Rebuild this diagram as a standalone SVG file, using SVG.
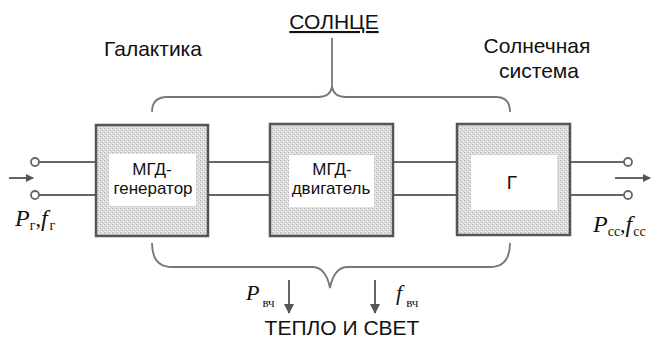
<svg xmlns="http://www.w3.org/2000/svg" width="653" height="340" viewBox="0 0 653 340">
<defs>
<pattern id="stip" width="4" height="4" patternUnits="userSpaceOnUse">
<rect width="4" height="4" fill="#dcdcdc"/>
<rect x="0" y="0" width="1" height="1" fill="#b0b0b0"/>
<rect x="2" y="2" width="1" height="1" fill="#b8b8b8"/>
<rect x="3" y="1" width="1" height="1" fill="#f2f2f2"/>
<rect x="1" y="3" width="1" height="1" fill="#efefef"/>
</pattern>
<marker id="ah" markerWidth="8" markerHeight="8" refX="7" refY="4" orient="auto" markerUnits="userSpaceOnUse">
<path d="M0,0 L8,4 L0,8 z" fill="#555"/>
</marker>
<marker id="ahd" markerWidth="10" markerHeight="10" refX="9" refY="5" orient="auto" markerUnits="userSpaceOnUse">
<path d="M0,0 L10,5 L0,10 z" fill="#555"/>
</marker>
</defs>
<style>
.box{fill:url(#stip);stroke:#555;stroke-width:2.5}
.inner{fill:#fff}
.t{font-family:"Liberation Sans",Arial,sans-serif;fill:#111}
.ln{stroke:#666;stroke-width:2;fill:none}
.br{stroke:#777;stroke-width:1.8;fill:none}
.term{fill:#fff;stroke:#666;stroke-width:1.8}
.it{font-family:"Liberation Serif","Times New Roman",serif;font-style:italic;fill:#111}
.sub{font-family:"Liberation Serif","Times New Roman",serif;fill:#111}
</style>
<rect width="653" height="340" fill="#fff"/>

<g id="connectors">
<line class="ln" x1="39" y1="162" x2="96" y2="162"/>
<line class="ln" x1="39" y1="195" x2="96" y2="195"/>
<line class="ln" x1="208" y1="162" x2="270" y2="162"/>
<line class="ln" x1="208" y1="195" x2="270" y2="195"/>
<line class="ln" x1="393" y1="162" x2="457" y2="162"/>
<line class="ln" x1="393" y1="195" x2="457" y2="195"/>
<line class="ln" x1="570" y1="162" x2="624" y2="162"/>
<line class="ln" x1="570" y1="195" x2="624" y2="195"/>
<circle class="term" cx="35" cy="162" r="4"/>
<circle class="term" cx="35" cy="195" r="4"/>
<circle class="term" cx="628" cy="162" r="4"/>
<circle class="term" cx="628" cy="195" r="4"/>
<line class="ln" x1="9" y1="178" x2="33" y2="178" marker-end="url(#ah)"/>
<line class="ln" x1="615" y1="178" x2="650" y2="178" marker-end="url(#ah)"/>
<path class="br" d="M152,112 Q152,97 167,97 L318,97 Q330,97 332,87 Q334,97 346,97 L496,97 Q510,97 510,112"/>
<line class="br" x1="332" y1="38" x2="332" y2="87"/>
<path class="br" d="M152,243 Q152,267 172,267 L312,267 Q326,267 330,288 Q334,267 348,267 L490,267 Q510,267 510,243"/>
<line class="ln" x1="289" y1="280" x2="289" y2="313" marker-end="url(#ahd)"/>
<line class="ln" x1="375" y1="280" x2="375" y2="313" marker-end="url(#ahd)"/>
</g>

<g id="mhd-generator">
<rect class="box" x="96" y="125" width="112" height="111"/>
<rect class="inner" x="109" y="154" width="87" height="52"/>
<text class="t" x="152" y="175" font-size="17" text-anchor="middle">МГД-</text>
<text class="t" x="153" y="194" font-size="17" text-anchor="middle">генератор</text>
</g>

<g id="mhd-motor">
<rect class="box" x="270" y="124" width="123" height="112"/>
<rect class="inner" x="289" y="155" width="85" height="52"/>
<text class="t" x="332" y="175" font-size="17" text-anchor="middle">МГД-</text>
<text class="t" x="331" y="194" font-size="17" text-anchor="middle">двигатель</text>
</g>

<g id="g-block">
<rect class="box" x="457" y="124" width="113" height="111"/>
<rect class="inner" x="471" y="155" width="86" height="55"/>
<text class="t" x="512" y="189" font-size="19" text-anchor="middle">Г</text>
</g>

<g id="labels">
<text class="t" x="334" y="29" font-size="21" text-anchor="middle" text-decoration="underline">СОЛНЦЕ</text>
<text class="t" x="153" y="56" font-size="21" text-anchor="middle">Галактика</text>
<text class="t" x="537" y="53" font-size="21" text-anchor="middle">Солнечная</text>
<text class="t" x="539" y="78" font-size="21" text-anchor="middle">система</text>
<text class="t" x="342" y="335" font-size="21" text-anchor="middle">ТЕПЛО И СВЕТ</text>
<text x="15" y="226"><tspan class="it" font-size="24">P</tspan><tspan class="sub" font-size="14" dy="4">г</tspan><tspan class="sub" font-size="22" dy="-4">,</tspan><tspan class="it" font-size="24">f</tspan><tspan class="sub" font-size="14" dx="2" dy="4">г</tspan></text>
<text x="593" y="232"><tspan class="it" font-size="24">P</tspan><tspan class="sub" font-size="14" dy="4">сс</tspan><tspan class="sub" font-size="22" dy="-4">,</tspan><tspan class="it" font-size="24">f</tspan><tspan class="sub" font-size="14" dx="1" dy="4">сс</tspan></text>
<text x="246" y="300"><tspan class="it" font-size="22">P</tspan><tspan class="sub" font-size="13" dx="3" dy="7">вч</tspan></text>
<text x="396" y="300"><tspan class="it" font-size="22">f</tspan><tspan class="sub" font-size="13" dx="4" dy="7">вч</tspan></text>
</g>
</svg>
